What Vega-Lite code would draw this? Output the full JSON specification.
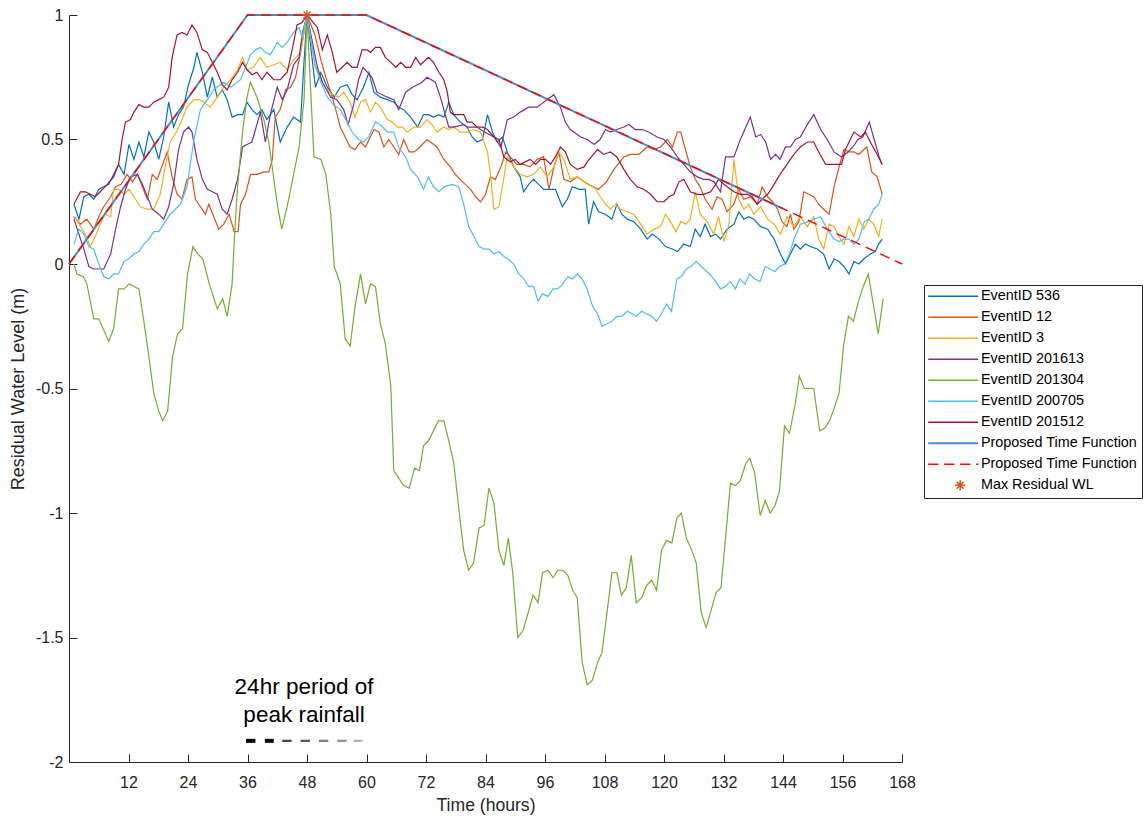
{
  "$schema": "https://vega.github.io/schema/vega-lite/v6.json",
  "autosize": {"type": "none"},
  "width": 833,
  "height": 747,
  "padding": {"left": 69, "top": 15, "right": 245, "bottom": 54},
  "background": "white",
  "config": {
    "view": {"stroke": null},
    "font": "Liberation Sans",
    "axis": {
      "domainColor": "#262626",
      "tickColor": "#262626",
      "labelColor": "#262626",
      "titleColor": "#262626",
      "labelFont": "Liberation Sans",
      "titleFont": "Liberation Sans",
      "labelFontSize": 16,
      "titleFontWeight": "normal",
      "grid": false,
      "tickSize": -8,
      "labelFlush": false
    }
  },
  "datasets": {
    "events": [
      {"series":"EventID 536","hour":1.0,"level":0.24},{"series":"EventID 536","hour":2.0,"level":0.18},{"series":"EventID 536","hour":3.0,"level":0.27},{"series":"EventID 536","hour":4.0,"level":0.28},{"series":"EventID 536","hour":5.0,"level":0.26},{"series":"EventID 536","hour":6.0,"level":0.30},{"series":"EventID 536","hour":7.0,"level":0.31},{"series":"EventID 536","hour":8.0,"level":0.32},{"series":"EventID 536","hour":9.0,"level":0.36},{"series":"EventID 536","hour":10.0,"level":0.40},{"series":"EventID 536","hour":11.1,"level":0.36},{"series":"EventID 536","hour":12.1,"level":0.48},{"series":"EventID 536","hour":13.1,"level":0.42},{"series":"EventID 536","hour":14.1,"level":0.49},{"series":"EventID 536","hour":15.1,"level":0.43},{"series":"EventID 536","hour":16.1,"level":0.53},{"series":"EventID 536","hour":17.1,"level":0.49},{"series":"EventID 536","hour":18.1,"level":0.42},{"series":"EventID 536","hour":19.1,"level":0.51},{"series":"EventID 536","hour":20.1,"level":0.65},{"series":"EventID 536","hour":21.1,"level":0.55},{"series":"EventID 536","hour":22.1,"level":0.60},{"series":"EventID 536","hour":23.1,"level":0.63},{"series":"EventID 536","hour":24.1,"level":0.72},{"series":"EventID 536","hour":25.2,"level":0.79},{"series":"EventID 536","hour":25.8,"level":0.85},{"series":"EventID 536","hour":26.9,"level":0.77},{"series":"EventID 536","hour":27.9,"level":0.67},{"series":"EventID 536","hour":28.9,"level":0.75},{"series":"EventID 536","hour":29.9,"level":0.67},{"series":"EventID 536","hour":30.9,"level":0.70},{"series":"EventID 536","hour":31.9,"level":0.66},{"series":"EventID 536","hour":32.9,"level":0.59},{"series":"EventID 536","hour":34.0,"level":0.60},{"series":"EventID 536","hour":35.0,"level":0.60},{"series":"EventID 536","hour":35.9,"level":0.65},{"series":"EventID 536","hour":36.9,"level":0.62},{"series":"EventID 536","hour":37.9,"level":0.60},{"series":"EventID 536","hour":38.9,"level":0.62},{"series":"EventID 536","hour":39.9,"level":0.58},{"series":"EventID 536","hour":41.3,"level":0.62},{"series":"EventID 536","hour":42.6,"level":0.49},{"series":"EventID 536","hour":44.0,"level":0.55},{"series":"EventID 536","hour":45.3,"level":0.59},{"series":"EventID 536","hour":46.7,"level":0.57},{"series":"EventID 536","hour":47.3,"level":0.78},{"series":"EventID 536","hour":48,"level":1.0},{"series":"EventID 536","hour":49.7,"level":0.71},{"series":"EventID 536","hour":50.8,"level":0.77},{"series":"EventID 536","hour":52.1,"level":0.71},{"series":"EventID 536","hour":53.5,"level":0.67},{"series":"EventID 536","hour":54.7,"level":0.71},{"series":"EventID 536","hour":56.1,"level":0.72},{"series":"EventID 536","hour":57.1,"level":0.68},{"series":"EventID 536","hour":58.1,"level":0.66},{"series":"EventID 536","hour":59.4,"level":0.71},{"series":"EventID 536","hour":60.5,"level":0.77},{"series":"EventID 536","hour":61.5,"level":0.69},{"series":"EventID 536","hour":62.8,"level":0.67},{"series":"EventID 536","hour":64.2,"level":0.66},{"series":"EventID 536","hour":65.5,"level":0.65},{"series":"EventID 536","hour":66.5,"level":0.63},{"series":"EventID 536","hour":67.5,"level":0.62},{"series":"EventID 536","hour":68.9,"level":0.59},{"series":"EventID 536","hour":70.3,"level":0.55},{"series":"EventID 536","hour":71.5,"level":0.60},{"series":"EventID 536","hour":72.5,"level":0.60},{"series":"EventID 536","hour":73.5,"level":0.59},{"series":"EventID 536","hour":74.6,"level":0.60},{"series":"EventID 536","hour":75.6,"level":0.59},{"series":"EventID 536","hour":76.6,"level":0.65},{"series":"EventID 536","hour":77.6,"level":0.60},{"series":"EventID 536","hour":78.9,"level":0.57},{"series":"EventID 536","hour":80.3,"level":0.55},{"series":"EventID 536","hour":81.3,"level":0.51},{"series":"EventID 536","hour":82.3,"level":0.49},{"series":"EventID 536","hour":83.4,"level":0.50},{"series":"EventID 536","hour":84.4,"level":0.60},{"series":"EventID 536","hour":85.4,"level":0.53},{"series":"EventID 536","hour":86.4,"level":0.49},{"series":"EventID 536","hour":87.4,"level":0.51},{"series":"EventID 536","hour":88.4,"level":0.45},{"series":"EventID 536","hour":89.7,"level":0.39},{"series":"EventID 536","hour":91.0,"level":0.35},{"series":"EventID 536","hour":91.7,"level":0.29},{"series":"EventID 536","hour":92.7,"level":0.32},{"series":"EventID 536","hour":93.7,"level":0.34},{"series":"EventID 536","hour":94.7,"level":0.32},{"series":"EventID 536","hour":95.7,"level":0.30},{"series":"EventID 536","hour":96.8,"level":0.30},{"series":"EventID 536","hour":98.1,"level":0.30},{"series":"EventID 536","hour":99.5,"level":0.23},{"series":"EventID 536","hour":100.5,"level":0.26},{"series":"EventID 536","hour":101.5,"level":0.31},{"series":"EventID 536","hour":102.9,"level":0.30},{"series":"EventID 536","hour":104.1,"level":0.30},{"series":"EventID 536","hour":104.8,"level":0.16},{"series":"EventID 536","hour":105.8,"level":0.25},{"series":"EventID 536","hour":106.8,"level":0.21},{"series":"EventID 536","hour":108.2,"level":0.20},{"series":"EventID 536","hour":109.5,"level":0.18},{"series":"EventID 536","hour":110.5,"level":0.24},{"series":"EventID 536","hour":111.5,"level":0.20},{"series":"EventID 536","hour":112.6,"level":0.18},{"series":"EventID 536","hour":113.9,"level":0.17},{"series":"EventID 536","hour":115.3,"level":0.14},{"series":"EventID 536","hour":116.6,"level":0.10},{"series":"EventID 536","hour":117.6,"level":0.12},{"series":"EventID 536","hour":119.0,"level":0.10},{"series":"EventID 536","hour":120.3,"level":0.07},{"series":"EventID 536","hour":121.7,"level":0.06},{"series":"EventID 536","hour":122.7,"level":0.05},{"series":"EventID 536","hour":124.0,"level":0.08},{"series":"EventID 536","hour":125.3,"level":0.07},{"series":"EventID 536","hour":126.3,"level":0.14},{"series":"EventID 536","hour":127.3,"level":0.11},{"series":"EventID 536","hour":128.3,"level":0.16},{"series":"EventID 536","hour":129.4,"level":0.11},{"series":"EventID 536","hour":130.4,"level":0.12},{"series":"EventID 536","hour":131.4,"level":0.10},{"series":"EventID 536","hour":132.7,"level":0.14},{"series":"EventID 536","hour":134.1,"level":0.16},{"series":"EventID 536","hour":135.1,"level":0.21},{"series":"EventID 536","hour":136.1,"level":0.18},{"series":"EventID 536","hour":137.1,"level":0.19},{"series":"EventID 536","hour":138.1,"level":0.18},{"series":"EventID 536","hour":139.5,"level":0.15},{"series":"EventID 536","hour":140.9,"level":0.14},{"series":"EventID 536","hour":142.2,"level":0.10},{"series":"EventID 536","hour":143.5,"level":0.04},{"series":"EventID 536","hour":144.5,"level":0.00},{"series":"EventID 536","hour":145.5,"level":0.04},{"series":"EventID 536","hour":146.5,"level":0.08},{"series":"EventID 536","hour":147.5,"level":0.06},{"series":"EventID 536","hour":148.5,"level":0.08},{"series":"EventID 536","hour":149.5,"level":0.07},{"series":"EventID 536","hour":150.9,"level":0.06},{"series":"EventID 536","hour":152.2,"level":0.04},{"series":"EventID 536","hour":153.3,"level":-0.02},{"series":"EventID 536","hour":154.3,"level":0.02},{"series":"EventID 536","hour":155.3,"level":0.01},{"series":"EventID 536","hour":156.3,"level":-0.01},{"series":"EventID 536","hour":157.3,"level":-0.04},{"series":"EventID 536","hour":158.3,"level":0.01},{"series":"EventID 536","hour":159.3,"level":0.00},{"series":"EventID 536","hour":160.3,"level":0.02},{"series":"EventID 536","hour":161.6,"level":0.04},{"series":"EventID 536","hour":162.6,"level":0.05},{"series":"EventID 536","hour":163.3,"level":0.08},{"series":"EventID 536","hour":164.0,"level":0.10},

      {"series":"EventID 12","hour":0.9,"level":0.19},{"series":"EventID 12","hour":2.3,"level":0.16},{"series":"EventID 12","hour":3.6,"level":0.18},{"series":"EventID 12","hour":5.0,"level":0.14},{"series":"EventID 12","hour":6.0,"level":0.19},{"series":"EventID 12","hour":7.0,"level":0.23},{"series":"EventID 12","hour":8.4,"level":0.27},{"series":"EventID 12","hour":9.4,"level":0.31},{"series":"EventID 12","hour":10.5,"level":0.32},{"series":"EventID 12","hour":11.7,"level":0.36},{"series":"EventID 12","hour":12.8,"level":0.33},{"series":"EventID 12","hour":13.8,"level":0.36},{"series":"EventID 12","hour":14.8,"level":0.31},{"series":"EventID 12","hour":15.8,"level":0.26},{"series":"EventID 12","hour":16.8,"level":0.36},{"series":"EventID 12","hour":17.8,"level":0.34},{"series":"EventID 12","hour":18.7,"level":0.39},{"series":"EventID 12","hour":19.8,"level":0.45},{"series":"EventID 12","hour":20.8,"level":0.35},{"series":"EventID 12","hour":21.8,"level":0.28},{"series":"EventID 12","hour":22.8,"level":0.26},{"series":"EventID 12","hour":23.8,"level":0.34},{"series":"EventID 12","hour":24.8,"level":0.35},{"series":"EventID 12","hour":25.5,"level":0.26},{"series":"EventID 12","hour":26.5,"level":0.23},{"series":"EventID 12","hour":27.5,"level":0.20},{"series":"EventID 12","hour":28.2,"level":0.24},{"series":"EventID 12","hour":29.2,"level":0.19},{"series":"EventID 12","hour":30.2,"level":0.14},{"series":"EventID 12","hour":31.2,"level":0.16},{"series":"EventID 12","hour":32.3,"level":0.20},{"series":"EventID 12","hour":33.3,"level":0.13},{"series":"EventID 12","hour":34.1,"level":0.13},{"series":"EventID 12","hour":34.6,"level":0.24},{"series":"EventID 12","hour":35.6,"level":0.28},{"series":"EventID 12","hour":36.6,"level":0.36},{"series":"EventID 12","hour":37.9,"level":0.36},{"series":"EventID 12","hour":39.3,"level":0.37},{"series":"EventID 12","hour":40.3,"level":0.37},{"series":"EventID 12","hour":41.0,"level":0.42},{"series":"EventID 12","hour":41.6,"level":0.59},{"series":"EventID 12","hour":42.6,"level":0.62},{"series":"EventID 12","hour":43.7,"level":0.70},{"series":"EventID 12","hour":44.7,"level":0.71},{"series":"EventID 12","hour":45.7,"level":0.75},{"series":"EventID 12","hour":46.7,"level":0.85},{"series":"EventID 12","hour":48,"level":1.0},{"series":"EventID 12","hour":49.6,"level":0.92},{"series":"EventID 12","hour":50.8,"level":0.82},{"series":"EventID 12","hour":51.8,"level":0.75},{"series":"EventID 12","hour":52.8,"level":0.69},{"series":"EventID 12","hour":53.8,"level":0.62},{"series":"EventID 12","hour":54.7,"level":0.55},{"series":"EventID 12","hour":55.7,"level":0.51},{"series":"EventID 12","hour":56.7,"level":0.47},{"series":"EventID 12","hour":57.7,"level":0.46},{"series":"EventID 12","hour":58.8,"level":0.49},{"series":"EventID 12","hour":59.8,"level":0.47},{"series":"EventID 12","hour":60.5,"level":0.50},{"series":"EventID 12","hour":61.5,"level":0.54},{"series":"EventID 12","hour":62.5,"level":0.53},{"series":"EventID 12","hour":63.5,"level":0.47},{"series":"EventID 12","hour":64.5,"level":0.50},{"series":"EventID 12","hour":65.5,"level":0.47},{"series":"EventID 12","hour":66.5,"level":0.44},{"series":"EventID 12","hour":67.5,"level":0.50},{"series":"EventID 12","hour":68.6,"level":0.45},{"series":"EventID 12","hour":69.6,"level":0.45},{"series":"EventID 12","hour":70.8,"level":0.47},{"series":"EventID 12","hour":72.2,"level":0.50},{"series":"EventID 12","hour":72.9,"level":0.49},{"series":"EventID 12","hour":74.2,"level":0.47},{"series":"EventID 12","hour":75.6,"level":0.42},{"series":"EventID 12","hour":76.9,"level":0.39},{"series":"EventID 12","hour":77.9,"level":0.36},{"series":"EventID 12","hour":78.9,"level":0.34},{"series":"EventID 12","hour":79.9,"level":0.32},{"series":"EventID 12","hour":81.0,"level":0.30},{"series":"EventID 12","hour":82.0,"level":0.27},{"series":"EventID 12","hour":83.0,"level":0.25},{"series":"EventID 12","hour":84.0,"level":0.28},{"series":"EventID 12","hour":85.0,"level":0.35},{"series":"EventID 12","hour":86.0,"level":0.34},{"series":"EventID 12","hour":87.1,"level":0.39},{"series":"EventID 12","hour":88.1,"level":0.45},{"series":"EventID 12","hour":89.0,"level":0.43},{"series":"EventID 12","hour":90.3,"level":0.40},{"series":"EventID 12","hour":91.7,"level":0.40},{"series":"EventID 12","hour":93.0,"level":0.39},{"series":"EventID 12","hour":94.4,"level":0.42},{"series":"EventID 12","hour":95.7,"level":0.43},{"series":"EventID 12","hour":96.8,"level":0.30},{"series":"EventID 12","hour":97.8,"level":0.39},{"series":"EventID 12","hour":98.8,"level":0.45},{"series":"EventID 12","hour":99.8,"level":0.34},{"series":"EventID 12","hour":101.1,"level":0.33},{"series":"EventID 12","hour":102.5,"level":0.35},{"series":"EventID 12","hour":103.9,"level":0.33},{"series":"EventID 12","hour":105.6,"level":0.31},{"series":"EventID 12","hour":106.8,"level":0.30},{"series":"EventID 12","hour":108.4,"level":0.33},{"series":"EventID 12","hour":109.9,"level":0.38},{"series":"EventID 12","hour":111.9,"level":0.43},{"series":"EventID 12","hour":113.2,"level":0.44},{"series":"EventID 12","hour":114.9,"level":0.44},{"series":"EventID 12","hour":116.6,"level":0.47},{"series":"EventID 12","hour":118.0,"level":0.46},{"series":"EventID 12","hour":119.3,"level":0.47},{"series":"EventID 12","hour":120.7,"level":0.50},{"series":"EventID 12","hour":121.7,"level":0.47},{"series":"EventID 12","hour":122.7,"level":0.53},{"series":"EventID 12","hour":123.4,"level":0.53},{"series":"EventID 12","hour":123.9,"level":0.49},{"series":"EventID 12","hour":125.3,"level":0.39},{"series":"EventID 12","hour":126.3,"level":0.34},{"series":"EventID 12","hour":127.3,"level":0.31},{"series":"EventID 12","hour":128.3,"level":0.26},{"series":"EventID 12","hour":129.7,"level":0.22},{"series":"EventID 12","hour":130.7,"level":0.27},{"series":"EventID 12","hour":131.7,"level":0.26},{"series":"EventID 12","hour":132.7,"level":0.21},{"series":"EventID 12","hour":134.1,"level":0.24},{"series":"EventID 12","hour":135.1,"level":0.30},{"series":"EventID 12","hour":136.1,"level":0.26},{"series":"EventID 12","hour":137.5,"level":0.27},{"series":"EventID 12","hour":138.8,"level":0.24},{"series":"EventID 12","hour":139.8,"level":0.31},{"series":"EventID 12","hour":140.9,"level":0.27},{"series":"EventID 12","hour":141.9,"level":0.25},{"series":"EventID 12","hour":142.9,"level":0.22},{"series":"EventID 12","hour":143.8,"level":0.17},{"series":"EventID 12","hour":144.8,"level":0.15},{"series":"EventID 12","hour":145.5,"level":0.20},{"series":"EventID 12","hour":146.2,"level":0.14},{"series":"EventID 12","hour":147.2,"level":0.17},{"series":"EventID 12","hour":148.2,"level":0.29},{"series":"EventID 12","hour":149.2,"level":0.28},{"series":"EventID 12","hour":150.2,"level":0.27},{"series":"EventID 12","hour":151.2,"level":0.24},{"series":"EventID 12","hour":152.2,"level":0.22},{"series":"EventID 12","hour":153.3,"level":0.20},{"series":"EventID 12","hour":154.3,"level":0.31},{"series":"EventID 12","hour":155.3,"level":0.39},{"series":"EventID 12","hour":156.3,"level":0.46},{"series":"EventID 12","hour":157.3,"level":0.45},{"series":"EventID 12","hour":158.3,"level":0.45},{"series":"EventID 12","hour":159.3,"level":0.44},{"series":"EventID 12","hour":160.3,"level":0.46},{"series":"EventID 12","hour":160.9,"level":0.47},{"series":"EventID 12","hour":161.9,"level":0.37},{"series":"EventID 12","hour":163.0,"level":0.35},{"series":"EventID 12","hour":164.0,"level":0.28},

      {"series":"EventID 3","hour":1.2,"level":0.19},{"series":"EventID 3","hour":2.3,"level":0.15},{"series":"EventID 3","hour":3.3,"level":0.12},{"series":"EventID 3","hour":4.3,"level":0.07},{"series":"EventID 3","hour":5.3,"level":0.11},{"series":"EventID 3","hour":6.3,"level":0.16},{"series":"EventID 3","hour":7.3,"level":0.20},{"series":"EventID 3","hour":8.4,"level":0.19},{"series":"EventID 3","hour":9.0,"level":0.30},{"series":"EventID 3","hour":10.0,"level":0.30},{"series":"EventID 3","hour":11.1,"level":0.28},{"series":"EventID 3","hour":12.1,"level":0.30},{"series":"EventID 3","hour":13.1,"level":0.27},{"series":"EventID 3","hour":14.4,"level":0.23},{"series":"EventID 3","hour":15.8,"level":0.22},{"series":"EventID 3","hour":17.1,"level":0.22},{"series":"EventID 3","hour":18.4,"level":0.28},{"series":"EventID 3","hour":19.4,"level":0.39},{"series":"EventID 3","hour":20.4,"level":0.49},{"series":"EventID 3","hour":21.4,"level":0.52},{"series":"EventID 3","hour":22.6,"level":0.57},{"series":"EventID 3","hour":23.8,"level":0.63},{"series":"EventID 3","hour":25.2,"level":0.66},{"series":"EventID 3","hour":26.2,"level":0.66},{"series":"EventID 3","hour":27.2,"level":0.65},{"series":"EventID 3","hour":28.5,"level":0.63},{"series":"EventID 3","hour":29.9,"level":0.67},{"series":"EventID 3","hour":31.2,"level":0.71},{"series":"EventID 3","hour":32.6,"level":0.74},{"series":"EventID 3","hour":34.0,"level":0.78},{"series":"EventID 3","hour":35.0,"level":0.83},{"series":"EventID 3","hour":35.9,"level":0.78},{"series":"EventID 3","hour":37.2,"level":0.79},{"series":"EventID 3","hour":38.6,"level":0.83},{"series":"EventID 3","hour":39.9,"level":0.79},{"series":"EventID 3","hour":41.3,"level":0.80},{"series":"EventID 3","hour":42.6,"level":0.81},{"series":"EventID 3","hour":44.0,"level":0.78},{"series":"EventID 3","hour":45.3,"level":0.82},{"series":"EventID 3","hour":46.7,"level":0.85},{"series":"EventID 3","hour":48,"level":1.0},{"series":"EventID 3","hour":49.6,"level":0.80},{"series":"EventID 3","hour":51.1,"level":0.73},{"series":"EventID 3","hour":52.4,"level":0.69},{"series":"EventID 3","hour":54.4,"level":0.67},{"series":"EventID 3","hour":55.4,"level":0.69},{"series":"EventID 3","hour":56.7,"level":0.65},{"series":"EventID 3","hour":57.7,"level":0.59},{"series":"EventID 3","hour":58.8,"level":0.65},{"series":"EventID 3","hour":59.8,"level":0.66},{"series":"EventID 3","hour":60.8,"level":0.61},{"series":"EventID 3","hour":61.8,"level":0.65},{"series":"EventID 3","hour":62.8,"level":0.63},{"series":"EventID 3","hour":64.2,"level":0.58},{"series":"EventID 3","hour":65.2,"level":0.57},{"series":"EventID 3","hour":66.2,"level":0.55},{"series":"EventID 3","hour":67.2,"level":0.55},{"series":"EventID 3","hour":68.2,"level":0.53},{"series":"EventID 3","hour":69.6,"level":0.55},{"series":"EventID 3","hour":70.8,"level":0.55},{"series":"EventID 3","hour":72.2,"level":0.58},{"series":"EventID 3","hour":73.2,"level":0.56},{"series":"EventID 3","hour":74.2,"level":0.53},{"series":"EventID 3","hour":75.6,"level":0.55},{"series":"EventID 3","hour":76.6,"level":0.54},{"series":"EventID 3","hour":77.6,"level":0.55},{"series":"EventID 3","hour":78.9,"level":0.53},{"series":"EventID 3","hour":80.3,"level":0.53},{"series":"EventID 3","hour":81.6,"level":0.54},{"series":"EventID 3","hour":83.0,"level":0.53},{"series":"EventID 3","hour":84.4,"level":0.45},{"series":"EventID 3","hour":85.0,"level":0.36},{"series":"EventID 3","hour":85.7,"level":0.22},{"series":"EventID 3","hour":86.7,"level":0.23},{"series":"EventID 3","hour":87.4,"level":0.31},{"series":"EventID 3","hour":88.4,"level":0.43},{"series":"EventID 3","hour":89.7,"level":0.39},{"series":"EventID 3","hour":91.0,"level":0.36},{"series":"EventID 3","hour":92.4,"level":0.35},{"series":"EventID 3","hour":93.7,"level":0.36},{"series":"EventID 3","hour":95.1,"level":0.39},{"series":"EventID 3","hour":96.4,"level":0.35},{"series":"EventID 3","hour":97.8,"level":0.39},{"series":"EventID 3","hour":98.8,"level":0.45},{"series":"EventID 3","hour":99.8,"level":0.42},{"series":"EventID 3","hour":101.1,"level":0.34},{"series":"EventID 3","hour":102.5,"level":0.35},{"series":"EventID 3","hour":103.9,"level":0.33},{"series":"EventID 3","hour":104.5,"level":0.32},{"series":"EventID 3","hour":105.9,"level":0.31},{"series":"EventID 3","hour":106.8,"level":0.28},{"series":"EventID 3","hour":108.2,"level":0.24},{"series":"EventID 3","hour":109.2,"level":0.22},{"series":"EventID 3","hour":110.2,"level":0.24},{"series":"EventID 3","hour":111.2,"level":0.22},{"series":"EventID 3","hour":112.6,"level":0.21},{"series":"EventID 3","hour":113.9,"level":0.20},{"series":"EventID 3","hour":115.3,"level":0.16},{"series":"EventID 3","hour":116.6,"level":0.12},{"series":"EventID 3","hour":118.0,"level":0.14},{"series":"EventID 3","hour":119.3,"level":0.15},{"series":"EventID 3","hour":120.3,"level":0.20},{"series":"EventID 3","hour":121.3,"level":0.17},{"series":"EventID 3","hour":122.4,"level":0.13},{"series":"EventID 3","hour":123.4,"level":0.17},{"series":"EventID 3","hour":124.4,"level":0.16},{"series":"EventID 3","hour":125.3,"level":0.18},{"series":"EventID 3","hour":126.3,"level":0.29},{"series":"EventID 3","hour":127.3,"level":0.20},{"series":"EventID 3","hour":128.7,"level":0.17},{"series":"EventID 3","hour":130.0,"level":0.12},{"series":"EventID 3","hour":131.0,"level":0.19},{"series":"EventID 3","hour":132.1,"level":0.09},{"series":"EventID 3","hour":133.1,"level":0.16},{"series":"EventID 3","hour":134.1,"level":0.42},{"series":"EventID 3","hour":135.1,"level":0.26},{"series":"EventID 3","hour":136.1,"level":0.22},{"series":"EventID 3","hour":137.1,"level":0.24},{"series":"EventID 3","hour":138.1,"level":0.20},{"series":"EventID 3","hour":139.5,"level":0.23},{"series":"EventID 3","hour":140.9,"level":0.18},{"series":"EventID 3","hour":142.2,"level":0.16},{"series":"EventID 3","hour":143.5,"level":0.12},{"series":"EventID 3","hour":144.8,"level":0.19},{"series":"EventID 3","hour":146.2,"level":0.15},{"series":"EventID 3","hour":147.5,"level":0.19},{"series":"EventID 3","hour":148.9,"level":0.15},{"series":"EventID 3","hour":150.2,"level":0.19},{"series":"EventID 3","hour":151.2,"level":0.10},{"series":"EventID 3","hour":152.2,"level":0.06},{"series":"EventID 3","hour":153.3,"level":0.16},{"series":"EventID 3","hour":154.3,"level":0.15},{"series":"EventID 3","hour":155.3,"level":0.11},{"series":"EventID 3","hour":156.3,"level":0.08},{"series":"EventID 3","hour":157.3,"level":0.15},{"series":"EventID 3","hour":158.3,"level":0.11},{"series":"EventID 3","hour":159.3,"level":0.18},{"series":"EventID 3","hour":160.3,"level":0.14},{"series":"EventID 3","hour":161.3,"level":0.18},{"series":"EventID 3","hour":162.3,"level":0.16},{"series":"EventID 3","hour":163.3,"level":0.11},{"series":"EventID 3","hour":164.0,"level":0.18},

      {"series":"EventID 201613","hour":1.0,"level":0.18},{"series":"EventID 201613","hour":2.0,"level":0.12},{"series":"EventID 201613","hour":3.0,"level":0.06},{"series":"EventID 201613","hour":4.0,"level":-0.01},{"series":"EventID 201613","hour":5.0,"level":-0.02},{"series":"EventID 201613","hour":7.0,"level":-0.02},{"series":"EventID 201613","hour":8.4,"level":0.04},{"series":"EventID 201613","hour":9.4,"level":0.14},{"series":"EventID 201613","hour":10.4,"level":0.23},{"series":"EventID 201613","hour":11.4,"level":0.30},{"series":"EventID 201613","hour":12.4,"level":0.35},{"series":"EventID 201613","hour":13.8,"level":0.36},{"series":"EventID 201613","hour":14.8,"level":0.32},{"series":"EventID 201613","hour":15.8,"level":0.27},{"series":"EventID 201613","hour":16.8,"level":0.22},{"series":"EventID 201613","hour":18.1,"level":0.20},{"series":"EventID 201613","hour":19.1,"level":0.18},{"series":"EventID 201613","hour":20.1,"level":0.23},{"series":"EventID 201613","hour":21.1,"level":0.32},{"series":"EventID 201613","hour":22.1,"level":0.46},{"series":"EventID 201613","hour":23.1,"level":0.53},{"series":"EventID 201613","hour":24.1,"level":0.55},{"series":"EventID 201613","hour":24.8,"level":0.53},{"series":"EventID 201613","hour":25.8,"level":0.42},{"series":"EventID 201613","hour":26.9,"level":0.34},{"series":"EventID 201613","hour":27.9,"level":0.30},{"series":"EventID 201613","hour":28.9,"level":0.29},{"series":"EventID 201613","hour":29.9,"level":0.28},{"series":"EventID 201613","hour":30.9,"level":0.22},{"series":"EventID 201613","hour":31.9,"level":0.20},{"series":"EventID 201613","hour":32.9,"level":0.26},{"series":"EventID 201613","hour":34.0,"level":0.34},{"series":"EventID 201613","hour":35.0,"level":0.47},{"series":"EventID 201613","hour":35.9,"level":0.48},{"series":"EventID 201613","hour":36.9,"level":0.49},{"series":"EventID 201613","hour":38.6,"level":0.61},{"series":"EventID 201613","hour":39.6,"level":0.49},{"series":"EventID 201613","hour":40.6,"level":0.60},{"series":"EventID 201613","hour":42.0,"level":0.71},{"series":"EventID 201613","hour":43.0,"level":0.66},{"series":"EventID 201613","hour":44.0,"level":0.70},{"series":"EventID 201613","hour":45.3,"level":0.80},{"series":"EventID 201613","hour":46.4,"level":0.83},{"series":"EventID 201613","hour":47.1,"level":0.93},{"series":"EventID 201613","hour":48,"level":1.0},{"series":"EventID 201613","hour":50.1,"level":0.79},{"series":"EventID 201613","hour":51.1,"level":0.73},{"series":"EventID 201613","hour":52.8,"level":0.67},{"series":"EventID 201613","hour":54.0,"level":0.66},{"series":"EventID 201613","hour":55.4,"level":0.62},{"series":"EventID 201613","hour":56.3,"level":0.56},{"series":"EventID 201613","hour":57.4,"level":0.64},{"series":"EventID 201613","hour":58.4,"level":0.74},{"series":"EventID 201613","hour":59.3,"level":0.79},{"series":"EventID 201613","hour":61.1,"level":0.75},{"series":"EventID 201613","hour":62.1,"level":0.69},{"series":"EventID 201613","hour":64.2,"level":0.67},{"series":"EventID 201613","hour":65.5,"level":0.66},{"series":"EventID 201613","hour":66.5,"level":0.62},{"series":"EventID 201613","hour":67.9,"level":0.69},{"series":"EventID 201613","hour":69.3,"level":0.71},{"series":"EventID 201613","hour":71.2,"level":0.73},{"series":"EventID 201613","hour":72.2,"level":0.75},{"series":"EventID 201613","hour":73.9,"level":0.73},{"series":"EventID 201613","hour":74.9,"level":0.67},{"series":"EventID 201613","hour":75.6,"level":0.62},{"series":"EventID 201613","hour":76.6,"level":0.55},{"series":"EventID 201613","hour":77.6,"level":0.55},{"series":"EventID 201613","hour":79.6,"level":0.56},{"series":"EventID 201613","hour":80.3,"level":0.55},{"series":"EventID 201613","hour":82.2,"level":0.55},{"series":"EventID 201613","hour":83.8,"level":0.53},{"series":"EventID 201613","hour":85.7,"level":0.51},{"series":"EventID 201613","hour":87.1,"level":0.47},{"series":"EventID 201613","hour":88.4,"level":0.58},{"series":"EventID 201613","hour":89.7,"level":0.59},{"series":"EventID 201613","hour":91.0,"level":0.61},{"series":"EventID 201613","hour":92.7,"level":0.63},{"series":"EventID 201613","hour":94.4,"level":0.63},{"series":"EventID 201613","hour":96.4,"level":0.66},{"series":"EventID 201613","hour":97.8,"level":0.68},{"series":"EventID 201613","hour":99.1,"level":0.63},{"series":"EventID 201613","hour":100.1,"level":0.57},{"series":"EventID 201613","hour":101.1,"level":0.54},{"series":"EventID 201613","hour":103.2,"level":0.51},{"series":"EventID 201613","hour":104.5,"level":0.50},{"series":"EventID 201613","hour":105.9,"level":0.48},{"series":"EventID 201613","hour":107.1,"level":0.50},{"series":"EventID 201613","hour":108.2,"level":0.54},{"series":"EventID 201613","hour":109.2,"level":0.53},{"series":"EventID 201613","hour":110.5,"level":0.54},{"series":"EventID 201613","hour":111.9,"level":0.55},{"series":"EventID 201613","hour":112.9,"level":0.56},{"series":"EventID 201613","hour":114.2,"level":0.54},{"series":"EventID 201613","hour":115.6,"level":0.54},{"series":"EventID 201613","hour":116.9,"level":0.53},{"series":"EventID 201613","hour":118.6,"level":0.51},{"series":"EventID 201613","hour":120.0,"level":0.50},{"series":"EventID 201613","hour":121.3,"level":0.47},{"series":"EventID 201613","hour":122.7,"level":0.43},{"series":"EventID 201613","hour":124.0,"level":0.40},{"series":"EventID 201613","hour":125.3,"level":0.37},{"series":"EventID 201613","hour":126.7,"level":0.35},{"series":"EventID 201613","hour":128.0,"level":0.34},{"series":"EventID 201613","hour":129.0,"level":0.34},{"series":"EventID 201613","hour":130.1,"level":0.33},{"series":"EventID 201613","hour":131.4,"level":0.29},{"series":"EventID 201613","hour":132.4,"level":0.43},{"series":"EventID 201613","hour":134.1,"level":0.43},{"series":"EventID 201613","hour":135.4,"level":0.50},{"series":"EventID 201613","hour":137.4,"level":0.59},{"series":"EventID 201613","hour":138.5,"level":0.51},{"series":"EventID 201613","hour":139.5,"level":0.52},{"series":"EventID 201613","hour":140.5,"level":0.49},{"series":"EventID 201613","hour":141.5,"level":0.42},{"series":"EventID 201613","hour":142.5,"level":0.44},{"series":"EventID 201613","hour":143.4,"level":0.42},{"series":"EventID 201613","hour":144.5,"level":0.47},{"series":"EventID 201613","hour":145.5,"level":0.47},{"series":"EventID 201613","hour":146.5,"level":0.50},{"series":"EventID 201613","hour":147.5,"level":0.51},{"series":"EventID 201613","hour":148.9,"level":0.56},{"series":"EventID 201613","hour":150.2,"level":0.60},{"series":"EventID 201613","hour":151.6,"level":0.54},{"series":"EventID 201613","hour":152.9,"level":0.50},{"series":"EventID 201613","hour":154.3,"level":0.45},{"series":"EventID 201613","hour":155.8,"level":0.43},{"series":"EventID 201613","hour":157.1,"level":0.45},{"series":"EventID 201613","hour":158.1,"level":0.47},{"series":"EventID 201613","hour":159.1,"level":0.50},{"series":"EventID 201613","hour":160.1,"level":0.51},{"series":"EventID 201613","hour":161.4,"level":0.57},{"series":"EventID 201613","hour":162.4,"level":0.50},{"series":"EventID 201613","hour":163.4,"level":0.43},{"series":"EventID 201613","hour":164.0,"level":0.40},

      {"series":"EventID 201304","hour":1.0,"level":0.0},{"series":"EventID 201304","hour":1.6,"level":-0.04},{"series":"EventID 201304","hour":2.9,"level":-0.05},{"series":"EventID 201304","hour":3.6,"level":-0.08},{"series":"EventID 201304","hour":5.0,"level":-0.22},{"series":"EventID 201304","hour":6.0,"level":-0.22},{"series":"EventID 201304","hour":8.0,"level":-0.31},{"series":"EventID 201304","hour":9.0,"level":-0.26},{"series":"EventID 201304","hour":10.0,"level":-0.10},{"series":"EventID 201304","hour":11.1,"level":-0.10},{"series":"EventID 201304","hour":12.1,"level":-0.08},{"series":"EventID 201304","hour":14.1,"level":-0.10},{"series":"EventID 201304","hour":15.1,"level":-0.23},{"series":"EventID 201304","hour":16.1,"level":-0.37},{"series":"EventID 201304","hour":17.1,"level":-0.52},{"series":"EventID 201304","hour":18.1,"level":-0.59},{"series":"EventID 201304","hour":18.9,"level":-0.63},{"series":"EventID 201304","hour":19.9,"level":-0.59},{"series":"EventID 201304","hour":20.9,"level":-0.37},{"series":"EventID 201304","hour":21.9,"level":-0.28},{"series":"EventID 201304","hour":22.9,"level":-0.26},{"series":"EventID 201304","hour":23.9,"level":-0.04},{"series":"EventID 201304","hour":25.0,"level":0.07},{"series":"EventID 201304","hour":26.0,"level":0.04},{"series":"EventID 201304","hour":27.0,"level":0.02},{"series":"EventID 201304","hour":28.3,"level":-0.08},{"series":"EventID 201304","hour":29.9,"level":-0.18},{"series":"EventID 201304","hour":31.0,"level":-0.14},{"series":"EventID 201304","hour":31.9,"level":-0.21},{"series":"EventID 201304","hour":32.9,"level":-0.08},{"series":"EventID 201304","hour":33.4,"level":0.12},{"series":"EventID 201304","hour":34.0,"level":0.31},{"series":"EventID 201304","hour":35.0,"level":0.53},{"series":"EventID 201304","hour":35.9,"level":0.67},{"series":"EventID 201304","hour":36.6,"level":0.73},{"series":"EventID 201304","hour":37.9,"level":0.67},{"series":"EventID 201304","hour":39.3,"level":0.58},{"series":"EventID 201304","hour":40.3,"level":0.49},{"series":"EventID 201304","hour":42.0,"level":0.24},{"series":"EventID 201304","hour":42.9,"level":0.14},{"series":"EventID 201304","hour":44.0,"level":0.23},{"series":"EventID 201304","hour":45.3,"level":0.36},{"series":"EventID 201304","hour":46.4,"level":0.47},{"series":"EventID 201304","hour":47.4,"level":0.66},{"series":"EventID 201304","hour":48,"level":1.0},{"series":"EventID 201304","hour":49.4,"level":0.43},{"series":"EventID 201304","hour":50.8,"level":0.42},{"series":"EventID 201304","hour":51.8,"level":0.36},{"series":"EventID 201304","hour":52.8,"level":0.20},{"series":"EventID 201304","hour":53.5,"level":-0.01},{"series":"EventID 201304","hour":54.7,"level":-0.08},{"series":"EventID 201304","hour":55.7,"level":-0.30},{"series":"EventID 201304","hour":56.7,"level":-0.33},{"series":"EventID 201304","hour":57.7,"level":-0.17},{"series":"EventID 201304","hour":58.8,"level":-0.04},{"series":"EventID 201304","hour":59.8,"level":-0.16},{"series":"EventID 201304","hour":60.8,"level":-0.08},{"series":"EventID 201304","hour":61.8,"level":-0.09},{"series":"EventID 201304","hour":62.8,"level":-0.24},{"series":"EventID 201304","hour":63.8,"level":-0.32},{"series":"EventID 201304","hour":64.9,"level":-0.49},{"series":"EventID 201304","hour":65.5,"level":-0.83},{"series":"EventID 201304","hour":66.5,"level":-0.86},{"series":"EventID 201304","hour":67.5,"level":-0.89},{"series":"EventID 201304","hour":68.6,"level":-0.90},{"series":"EventID 201304","hour":69.7,"level":-0.82},{"series":"EventID 201304","hour":70.7,"level":-0.83},{"series":"EventID 201304","hour":71.5,"level":-0.73},{"series":"EventID 201304","hour":72.5,"level":-0.71},{"series":"EventID 201304","hour":73.5,"level":-0.67},{"series":"EventID 201304","hour":74.5,"level":-0.63},{"series":"EventID 201304","hour":75.6,"level":-0.63},{"series":"EventID 201304","hour":76.6,"level":-0.71},{"series":"EventID 201304","hour":77.6,"level":-0.80},{"series":"EventID 201304","hour":78.6,"level":-0.98},{"series":"EventID 201304","hour":79.6,"level":-1.15},{"series":"EventID 201304","hour":80.6,"level":-1.23},{"series":"EventID 201304","hour":81.6,"level":-1.20},{"series":"EventID 201304","hour":82.7,"level":-1.06},{"series":"EventID 201304","hour":83.7,"level":-1.05},{"series":"EventID 201304","hour":84.7,"level":-0.90},{"series":"EventID 201304","hour":85.7,"level":-0.96},{"series":"EventID 201304","hour":86.7,"level":-1.15},{"series":"EventID 201304","hour":87.7,"level":-1.21},{"series":"EventID 201304","hour":88.6,"level":-1.10},{"series":"EventID 201304","hour":89.5,"level":-1.24},{"series":"EventID 201304","hour":90.5,"level":-1.50},{"series":"EventID 201304","hour":91.6,"level":-1.47},{"series":"EventID 201304","hour":92.6,"level":-1.40},{"series":"EventID 201304","hour":93.6,"level":-1.33},{"series":"EventID 201304","hour":94.6,"level":-1.36},{"series":"EventID 201304","hour":95.5,"level":-1.24},{"series":"EventID 201304","hour":96.6,"level":-1.23},{"series":"EventID 201304","hour":97.6,"level":-1.26},{"series":"EventID 201304","hour":98.6,"level":-1.23},{"series":"EventID 201304","hour":99.6,"level":-1.23},{"series":"EventID 201304","hour":100.6,"level":-1.25},{"series":"EventID 201304","hour":101.6,"level":-1.31},{"series":"EventID 201304","hour":102.5,"level":-1.34},{"series":"EventID 201304","hour":103.5,"level":-1.60},{"series":"EventID 201304","hour":104.5,"level":-1.69},{"series":"EventID 201304","hour":105.6,"level":-1.67},{"series":"EventID 201304","hour":106.6,"level":-1.60},{"series":"EventID 201304","hour":107.5,"level":-1.56},{"series":"EventID 201304","hour":108.5,"level":-1.40},{"series":"EventID 201304","hour":109.5,"level":-1.24},{"series":"EventID 201304","hour":110.5,"level":-1.24},{"series":"EventID 201304","hour":111.4,"level":-1.33},{"series":"EventID 201304","hour":112.4,"level":-1.30},{"series":"EventID 201304","hour":113.4,"level":-1.17},{"series":"EventID 201304","hour":114.4,"level":-1.36},{"series":"EventID 201304","hour":115.5,"level":-1.34},{"series":"EventID 201304","hour":116.5,"level":-1.29},{"series":"EventID 201304","hour":117.5,"level":-1.27},{"series":"EventID 201304","hour":118.5,"level":-1.31},{"series":"EventID 201304","hour":119.5,"level":-1.15},{"series":"EventID 201304","hour":120.5,"level":-1.11},{"series":"EventID 201304","hour":121.6,"level":-1.12},{"series":"EventID 201304","hour":122.6,"level":-1.02},{"series":"EventID 201304","hour":123.5,"level":-1.00},{"series":"EventID 201304","hour":124.5,"level":-1.10},{"series":"EventID 201304","hour":125.4,"level":-1.14},{"series":"EventID 201304","hour":126.5,"level":-1.20},{"series":"EventID 201304","hour":127.5,"level":-1.40},{"series":"EventID 201304","hour":128.5,"level":-1.46},{"series":"EventID 201304","hour":129.5,"level":-1.39},{"series":"EventID 201304","hour":130.5,"level":-1.32},{"series":"EventID 201304","hour":131.5,"level":-1.30},{"series":"EventID 201304","hour":132.5,"level":-1.08},{"series":"EventID 201304","hour":133.4,"level":-0.88},{"series":"EventID 201304","hour":134.4,"level":-0.89},{"series":"EventID 201304","hour":135.4,"level":-0.87},{"series":"EventID 201304","hour":136.5,"level":-0.80},{"series":"EventID 201304","hour":137.3,"level":-0.78},{"series":"EventID 201304","hour":138.3,"level":-0.84},{"series":"EventID 201304","hour":139.4,"level":-1.01},{"series":"EventID 201304","hour":140.4,"level":-0.95},{"series":"EventID 201304","hour":141.4,"level":-1.00},{"series":"EventID 201304","hour":142.4,"level":-0.97},{"series":"EventID 201304","hour":143.3,"level":-0.91},{"series":"EventID 201304","hour":144.3,"level":-0.65},{"series":"EventID 201304","hour":145.3,"level":-0.68},{"series":"EventID 201304","hour":146.4,"level":-0.57},{"series":"EventID 201304","hour":147.3,"level":-0.45},{"series":"EventID 201304","hour":148.3,"level":-0.50},{"series":"EventID 201304","hour":149.3,"level":-0.50},{"series":"EventID 201304","hour":150.2,"level":-0.50},{"series":"EventID 201304","hour":151.4,"level":-0.67},{"series":"EventID 201304","hour":152.4,"level":-0.66},{"series":"EventID 201304","hour":153.4,"level":-0.63},{"series":"EventID 201304","hour":154.3,"level":-0.58},{"series":"EventID 201304","hour":155.3,"level":-0.52},{"series":"EventID 201304","hour":156.2,"level":-0.33},{"series":"EventID 201304","hour":157.2,"level":-0.21},{"series":"EventID 201304","hour":158.2,"level":-0.23},{"series":"EventID 201304","hour":159.2,"level":-0.15},{"series":"EventID 201304","hour":160.2,"level":-0.09},{"series":"EventID 201304","hour":161.2,"level":-0.04},{"series":"EventID 201304","hour":162.2,"level":-0.16},{"series":"EventID 201304","hour":163.2,"level":-0.28},{"series":"EventID 201304","hour":164.2,"level":-0.14},

      {"series":"EventID 200705","hour":1.0,"level":0.08},{"series":"EventID 200705","hour":2.0,"level":0.14},{"series":"EventID 200705","hour":3.0,"level":0.12},{"series":"EventID 200705","hour":4.0,"level":0.07},{"series":"EventID 200705","hour":5.0,"level":0.06},{"series":"EventID 200705","hour":6.0,"level":0.00},{"series":"EventID 200705","hour":7.0,"level":-0.05},{"series":"EventID 200705","hour":8.0,"level":-0.06},{"series":"EventID 200705","hour":9.0,"level":-0.04},{"series":"EventID 200705","hour":10.0,"level":-0.04},{"series":"EventID 200705","hour":11.1,"level":0.01},{"series":"EventID 200705","hour":12.0,"level":0.02},{"series":"EventID 200705","hour":13.1,"level":0.04},{"series":"EventID 200705","hour":14.1,"level":0.05},{"series":"EventID 200705","hour":15.1,"level":0.08},{"series":"EventID 200705","hour":16.1,"level":0.10},{"series":"EventID 200705","hour":17.1,"level":0.13},{"series":"EventID 200705","hour":18.1,"level":0.13},{"series":"EventID 200705","hour":20.4,"level":0.20},{"series":"EventID 200705","hour":22.5,"level":0.24},{"series":"EventID 200705","hour":23.8,"level":0.31},{"series":"EventID 200705","hour":25.2,"level":0.50},{"series":"EventID 200705","hour":26.5,"level":0.62},{"series":"EventID 200705","hour":27.9,"level":0.66},{"series":"EventID 200705","hour":29.2,"level":0.70},{"series":"EventID 200705","hour":31.2,"level":0.73},{"series":"EventID 200705","hour":32.6,"level":0.71},{"series":"EventID 200705","hour":34.6,"level":0.74},{"series":"EventID 200705","hour":36.6,"level":0.84},{"series":"EventID 200705","hour":37.6,"level":0.86},{"series":"EventID 200705","hour":38.6,"level":0.87},{"series":"EventID 200705","hour":39.6,"level":0.85},{"series":"EventID 200705","hour":40.6,"level":0.84},{"series":"EventID 200705","hour":42.0,"level":0.89},{"series":"EventID 200705","hour":43.0,"level":0.87},{"series":"EventID 200705","hour":44.0,"level":0.89},{"series":"EventID 200705","hour":45.3,"level":0.93},{"series":"EventID 200705","hour":46.4,"level":0.95},{"series":"EventID 200705","hour":47.0,"level":0.91},{"series":"EventID 200705","hour":48,"level":1.0},{"series":"EventID 200705","hour":49.6,"level":0.80},{"series":"EventID 200705","hour":50.8,"level":0.73},{"series":"EventID 200705","hour":52.1,"level":0.67},{"series":"EventID 200705","hour":53.3,"level":0.64},{"series":"EventID 200705","hour":54.7,"level":0.62},{"series":"EventID 200705","hour":56.1,"level":0.57},{"series":"EventID 200705","hour":57.1,"level":0.53},{"series":"EventID 200705","hour":58.4,"level":0.50},{"series":"EventID 200705","hour":59.4,"level":0.49},{"series":"EventID 200705","hour":60.4,"level":0.51},{"series":"EventID 200705","hour":61.8,"level":0.57},{"series":"EventID 200705","hour":62.8,"level":0.56},{"series":"EventID 200705","hour":64.2,"level":0.53},{"series":"EventID 200705","hour":65.5,"level":0.53},{"series":"EventID 200705","hour":66.5,"level":0.47},{"series":"EventID 200705","hour":67.9,"level":0.43},{"series":"EventID 200705","hour":68.9,"level":0.38},{"series":"EventID 200705","hour":70.3,"level":0.35},{"series":"EventID 200705","hour":71.5,"level":0.30},{"series":"EventID 200705","hour":72.5,"level":0.35},{"series":"EventID 200705","hour":73.5,"level":0.31},{"series":"EventID 200705","hour":74.6,"level":0.29},{"series":"EventID 200705","hour":75.6,"level":0.31},{"series":"EventID 200705","hour":77.3,"level":0.32},{"series":"EventID 200705","hour":78.6,"level":0.31},{"series":"EventID 200705","hour":79.6,"level":0.24},{"series":"EventID 200705","hour":80.6,"level":0.15},{"series":"EventID 200705","hour":81.7,"level":0.11},{"series":"EventID 200705","hour":82.7,"level":0.07},{"series":"EventID 200705","hour":83.7,"level":0.06},{"series":"EventID 200705","hour":84.7,"level":0.06},{"series":"EventID 200705","hour":85.7,"level":0.04},{"series":"EventID 200705","hour":86.7,"level":0.05},{"series":"EventID 200705","hour":87.7,"level":0.03},{"series":"EventID 200705","hour":88.6,"level":0.02},{"series":"EventID 200705","hour":89.7,"level":0.00},{"series":"EventID 200705","hour":90.7,"level":-0.04},{"series":"EventID 200705","hour":91.7,"level":-0.06},{"series":"EventID 200705","hour":92.7,"level":-0.09},{"series":"EventID 200705","hour":93.7,"level":-0.09},{"series":"EventID 200705","hour":94.6,"level":-0.15},{"series":"EventID 200705","hour":95.5,"level":-0.12},{"series":"EventID 200705","hour":96.6,"level":-0.13},{"series":"EventID 200705","hour":97.6,"level":-0.10},{"series":"EventID 200705","hour":98.6,"level":-0.10},{"series":"EventID 200705","hour":99.6,"level":-0.08},{"series":"EventID 200705","hour":100.6,"level":-0.05},{"series":"EventID 200705","hour":101.5,"level":-0.06},{"series":"EventID 200705","hour":102.5,"level":-0.04},{"series":"EventID 200705","hour":103.5,"level":-0.06},{"series":"EventID 200705","hour":104.5,"level":-0.10},{"series":"EventID 200705","hour":105.6,"level":-0.17},{"series":"EventID 200705","hour":106.6,"level":-0.20},{"series":"EventID 200705","hour":107.5,"level":-0.25},{"series":"EventID 200705","hour":108.5,"level":-0.24},{"series":"EventID 200705","hour":109.5,"level":-0.23},{"series":"EventID 200705","hour":110.5,"level":-0.21},{"series":"EventID 200705","hour":111.5,"level":-0.21},{"series":"EventID 200705","hour":112.6,"level":-0.19},{"series":"EventID 200705","hour":113.6,"level":-0.20},{"series":"EventID 200705","hour":114.4,"level":-0.21},{"series":"EventID 200705","hour":115.5,"level":-0.19},{"series":"EventID 200705","hour":116.5,"level":-0.20},{"series":"EventID 200705","hour":117.5,"level":-0.21},{"series":"EventID 200705","hour":118.5,"level":-0.23},{"series":"EventID 200705","hour":119.5,"level":-0.20},{"series":"EventID 200705","hour":120.5,"level":-0.16},{"series":"EventID 200705","hour":121.5,"level":-0.19},{"series":"EventID 200705","hour":122.6,"level":-0.06},{"series":"EventID 200705","hour":123.5,"level":-0.05},{"series":"EventID 200705","hour":124.5,"level":-0.02},{"series":"EventID 200705","hour":125.4,"level":-0.01},{"series":"EventID 200705","hour":126.5,"level":0.01},{"series":"EventID 200705","hour":127.5,"level":-0.01},{"series":"EventID 200705","hour":129.2,"level":-0.04},{"series":"EventID 200705","hour":130.4,"level":-0.07},{"series":"EventID 200705","hour":131.4,"level":-0.10},{"series":"EventID 200705","hour":132.4,"level":-0.09},{"series":"EventID 200705","hour":133.4,"level":-0.07},{"series":"EventID 200705","hour":134.4,"level":-0.10},{"series":"EventID 200705","hour":135.3,"level":-0.06},{"series":"EventID 200705","hour":136.3,"level":-0.08},{"series":"EventID 200705","hour":137.3,"level":-0.04},{"series":"EventID 200705","hour":138.3,"level":-0.06},{"series":"EventID 200705","hour":139.4,"level":-0.07},{"series":"EventID 200705","hour":140.4,"level":-0.01},{"series":"EventID 200705","hour":141.4,"level":-0.02},{"series":"EventID 200705","hour":142.4,"level":-0.03},{"series":"EventID 200705","hour":143.3,"level":-0.01},{"series":"EventID 200705","hour":144.3,"level":0.00},{"series":"EventID 200705","hour":145.3,"level":0.04},{"series":"EventID 200705","hour":146.2,"level":0.10},{"series":"EventID 200705","hour":147.5,"level":0.16},{"series":"EventID 200705","hour":149.2,"level":0.17},{"series":"EventID 200705","hour":150.2,"level":0.18},{"series":"EventID 200705","hour":151.6,"level":0.19},{"series":"EventID 200705","hour":152.9,"level":0.14},{"series":"EventID 200705","hour":154.3,"level":0.10},{"series":"EventID 200705","hour":155.3,"level":0.09},{"series":"EventID 200705","hour":156.3,"level":0.10},{"series":"EventID 200705","hour":157.3,"level":0.10},{"series":"EventID 200705","hour":158.3,"level":0.08},{"series":"EventID 200705","hour":159.3,"level":0.10},{"series":"EventID 200705","hour":160.4,"level":0.17},{"series":"EventID 200705","hour":161.3,"level":0.18},{"series":"EventID 200705","hour":162.3,"level":0.22},{"series":"EventID 200705","hour":163.3,"level":0.24},{"series":"EventID 200705","hour":164.0,"level":0.28},

      {"series":"EventID 201512","hour":1.0,"level":0.24},{"series":"EventID 201512","hour":2.3,"level":0.29},{"series":"EventID 201512","hour":3.3,"level":0.29},{"series":"EventID 201512","hour":4.3,"level":0.28},{"series":"EventID 201512","hour":5.3,"level":0.27},{"series":"EventID 201512","hour":6.3,"level":0.29},{"series":"EventID 201512","hour":7.7,"level":0.32},{"series":"EventID 201512","hour":9.0,"level":0.35},{"series":"EventID 201512","hour":10.0,"level":0.40},{"series":"EventID 201512","hour":10.7,"level":0.50},{"series":"EventID 201512","hour":11.4,"level":0.57},{"series":"EventID 201512","hour":12.4,"level":0.58},{"series":"EventID 201512","hour":13.1,"level":0.61},{"series":"EventID 201512","hour":14.1,"level":0.64},{"series":"EventID 201512","hour":15.1,"level":0.63},{"series":"EventID 201512","hour":16.1,"level":0.63},{"series":"EventID 201512","hour":17.1,"level":0.65},{"series":"EventID 201512","hour":18.1,"level":0.66},{"series":"EventID 201512","hour":19.1,"level":0.67},{"series":"EventID 201512","hour":20.1,"level":0.71},{"series":"EventID 201512","hour":20.8,"level":0.83},{"series":"EventID 201512","hour":21.8,"level":0.92},{"series":"EventID 201512","hour":22.8,"level":0.93},{"series":"EventID 201512","hour":23.8,"level":0.92},{"series":"EventID 201512","hour":24.8,"level":0.96},{"series":"EventID 201512","hour":25.8,"level":0.93},{"series":"EventID 201512","hour":26.9,"level":0.86},{"series":"EventID 201512","hour":27.9,"level":0.85},{"series":"EventID 201512","hour":28.9,"level":0.81},{"series":"EventID 201512","hour":29.9,"level":0.77},{"series":"EventID 201512","hour":30.9,"level":0.72},{"series":"EventID 201512","hour":31.9,"level":0.70},{"series":"EventID 201512","hour":32.9,"level":0.74},{"series":"EventID 201512","hour":34.0,"level":0.77},{"series":"EventID 201512","hour":35.0,"level":0.81},{"series":"EventID 201512","hour":35.9,"level":0.78},{"series":"EventID 201512","hour":36.9,"level":0.76},{"series":"EventID 201512","hour":37.9,"level":0.77},{"series":"EventID 201512","hour":38.9,"level":0.74},{"series":"EventID 201512","hour":39.9,"level":0.77},{"series":"EventID 201512","hour":41.3,"level":0.74},{"series":"EventID 201512","hour":42.6,"level":0.74},{"series":"EventID 201512","hour":44.0,"level":0.77},{"series":"EventID 201512","hour":45.0,"level":0.86},{"series":"EventID 201512","hour":46.0,"level":0.96},{"series":"EventID 201512","hour":47.0,"level":0.97},{"series":"EventID 201512","hour":48,"level":1.0},{"series":"EventID 201512","hour":50.1,"level":0.95},{"series":"EventID 201512","hour":51.1,"level":0.86},{"series":"EventID 201512","hour":52.1,"level":0.92},{"series":"EventID 201512","hour":53.1,"level":0.85},{"series":"EventID 201512","hour":54.0,"level":0.77},{"series":"EventID 201512","hour":55.1,"level":0.79},{"series":"EventID 201512","hour":56.1,"level":0.81},{"series":"EventID 201512","hour":57.1,"level":0.79},{"series":"EventID 201512","hour":58.1,"level":0.79},{"series":"EventID 201512","hour":59.1,"level":0.86},{"series":"EventID 201512","hour":60.1,"level":0.86},{"series":"EventID 201512","hour":60.8,"level":0.85},{"series":"EventID 201512","hour":61.8,"level":0.87},{"series":"EventID 201512","hour":62.8,"level":0.87},{"series":"EventID 201512","hour":63.8,"level":0.83},{"series":"EventID 201512","hour":64.9,"level":0.81},{"series":"EventID 201512","hour":65.9,"level":0.79},{"series":"EventID 201512","hour":66.9,"level":0.81},{"series":"EventID 201512","hour":67.9,"level":0.79},{"series":"EventID 201512","hour":68.9,"level":0.79},{"series":"EventID 201512","hour":69.9,"level":0.83},{"series":"EventID 201512","hour":70.9,"level":0.80},{"series":"EventID 201512","hour":72.5,"level":0.83},{"series":"EventID 201512","hour":73.5,"level":0.81},{"series":"EventID 201512","hour":74.6,"level":0.77},{"series":"EventID 201512","hour":75.6,"level":0.74},{"series":"EventID 201512","hour":76.3,"level":0.69},{"series":"EventID 201512","hour":76.9,"level":0.61},{"series":"EventID 201512","hour":77.6,"level":0.60},{"series":"EventID 201512","hour":78.6,"level":0.60},{"series":"EventID 201512","hour":79.6,"level":0.60},{"series":"EventID 201512","hour":80.3,"level":0.57},{"series":"EventID 201512","hour":81.3,"level":0.57},{"series":"EventID 201512","hour":82.3,"level":0.55},{"series":"EventID 201512","hour":83.4,"level":0.55},{"series":"EventID 201512","hour":84.4,"level":0.54},{"series":"EventID 201512","hour":85.7,"level":0.51},{"series":"EventID 201512","hour":86.7,"level":0.50},{"series":"EventID 201512","hour":87.7,"level":0.43},{"series":"EventID 201512","hour":89.0,"level":0.41},{"series":"EventID 201512","hour":90.0,"level":0.42},{"series":"EventID 201512","hour":91.0,"level":0.40},{"series":"EventID 201512","hour":92.0,"level":0.41},{"series":"EventID 201512","hour":93.0,"level":0.42},{"series":"EventID 201512","hour":94.1,"level":0.40},{"series":"EventID 201512","hour":95.1,"level":0.42},{"series":"EventID 201512","hour":96.1,"level":0.42},{"series":"EventID 201512","hour":97.1,"level":0.40},{"series":"EventID 201512","hour":98.1,"level":0.43},{"series":"EventID 201512","hour":99.1,"level":0.47},{"series":"EventID 201512","hour":100.1,"level":0.45},{"series":"EventID 201512","hour":101.1,"level":0.40},{"series":"EventID 201512","hour":102.5,"level":0.38},{"series":"EventID 201512","hour":103.9,"level":0.39},{"series":"EventID 201512","hour":104.5,"level":0.41},{"series":"EventID 201512","hour":106.6,"level":0.46},{"series":"EventID 201512","hour":107.8,"level":0.44},{"series":"EventID 201512","hour":109.2,"level":0.45},{"series":"EventID 201512","hour":110.5,"level":0.43},{"series":"EventID 201512","hour":111.9,"level":0.38},{"series":"EventID 201512","hour":113.2,"level":0.34},{"series":"EventID 201512","hour":114.6,"level":0.31},{"series":"EventID 201512","hour":115.9,"level":0.30},{"series":"EventID 201512","hour":117.3,"level":0.28},{"series":"EventID 201512","hour":118.6,"level":0.25},{"series":"EventID 201512","hour":120.0,"level":0.25},{"series":"EventID 201512","hour":121.0,"level":0.27},{"series":"EventID 201512","hour":122.0,"level":0.28},{"series":"EventID 201512","hour":123.0,"level":0.33},{"series":"EventID 201512","hour":124.0,"level":0.34},{"series":"EventID 201512","hour":125.3,"level":0.29},{"series":"EventID 201512","hour":126.7,"level":0.28},{"series":"EventID 201512","hour":128.0,"level":0.28},{"series":"EventID 201512","hour":129.4,"level":0.29},{"series":"EventID 201512","hour":130.1,"level":0.31},{"series":"EventID 201512","hour":131.0,"level":0.34},{"series":"EventID 201512","hour":132.1,"level":0.32},{"series":"EventID 201512","hour":134.1,"level":0.29},{"series":"EventID 201512","hour":135.4,"level":0.28},{"series":"EventID 201512","hour":136.8,"level":0.28},{"series":"EventID 201512","hour":137.8,"level":0.27},{"series":"EventID 201512","hour":138.8,"level":0.24},{"series":"EventID 201512","hour":139.8,"level":0.26},{"series":"EventID 201512","hour":140.9,"level":0.28},{"series":"EventID 201512","hour":141.9,"level":0.31},{"series":"EventID 201512","hour":143.4,"level":0.36},{"series":"EventID 201512","hour":144.8,"level":0.40},{"series":"EventID 201512","hour":146.2,"level":0.44},{"series":"EventID 201512","hour":147.5,"level":0.47},{"series":"EventID 201512","hour":148.9,"level":0.49},{"series":"EventID 201512","hour":150.2,"level":0.49},{"series":"EventID 201512","hour":151.2,"level":0.45},{"series":"EventID 201512","hour":152.6,"level":0.40},{"series":"EventID 201512","hour":154.3,"level":0.40},{"series":"EventID 201512","hour":155.8,"level":0.40},{"series":"EventID 201512","hour":156.6,"level":0.46},{"series":"EventID 201512","hour":158.3,"level":0.53},{"series":"EventID 201512","hour":159.7,"level":0.51},{"series":"EventID 201512","hour":160.6,"level":0.53},{"series":"EventID 201512","hour":161.6,"level":0.49},{"series":"EventID 201512","hour":163.0,"level":0.44},{"series":"EventID 201512","hour":164.0,"level":0.40}
    ],
    "proposed": [
      {"series":"Proposed Time Function (to 144 h)","hour":0,"level":0},
      {"series":"Proposed Time Function (to 144 h)","hour":36,"level":1},
      {"series":"Proposed Time Function (to 144 h)","hour":60,"level":1},
      {"series":"Proposed Time Function (to 144 h)","hour":144,"level":0.2222},
      {"series":"Proposed Time Function (to 168 h)","hour":0,"level":0},
      {"series":"Proposed Time Function (to 168 h)","hour":36,"level":1},
      {"series":"Proposed Time Function (to 168 h)","hour":60,"level":1},
      {"series":"Proposed Time Function (to 168 h)","hour":168,"level":0}
    ],
    "peak": [
      {"series":"Max Residual WL","hour":48,"level":1}
    ],
    "rainfall": [
      {"start":35.7,"end":37.6,"intensity":1.0},
      {"start":39.5,"end":41.3,"intensity":0.95},
      {"start":43.0,"end":44.9,"intensity":0.72},
      {"start":46.7,"end":48.6,"intensity":0.65},
      {"start":50.4,"end":52.3,"intensity":0.5},
      {"start":54.1,"end":56.0,"intensity":0.42},
      {"start":57.4,"end":59.2,"intensity":0.3}
    ],
    "note": [
      {"hour":47.4,"level":-1.70,"text":"24hr period of"},
      {"hour":47.4,"level":-1.812,"text":"peak rainfall"}
    ]
  },
  "layer": [
    {
      "data": {"name": "events"},
      "mark": {"type": "line", "strokeWidth": 1.2, "clip": true},
      "encoding": {
        "x": {
          "field": "hour", "type": "quantitative",
          "scale": {"domain": [0, 168], "nice": false, "zero": false},
          "axis": {
            "title": "Time (hours)",
            "values": [12, 24, 36, 48, 60, 72, 84, 96, 108, 120, 132, 144, 156, 168],
            "labelPadding": 20,
            "titleFontSize": 17.6,
            "titlePadding": 6
          }
        },
        "y": {
          "field": "level", "type": "quantitative",
          "scale": {"domain": [-2, 1], "nice": false, "zero": false},
          "axis": {
            "title": "Residual Water Level (m)",
            "values": [-2, -1.5, -1, -0.5, 0, 0.5, 1],
            "labelExpr": "toString(datum.value)",
            "labelPadding": 14,
            "titleFontSize": 18,
            "titlePadding": 8
          }
        },
        "color": {
          "field": "series", "type": "nominal",
          "scale": {
            "domain": ["EventID 536", "EventID 12", "EventID 3", "EventID 201613", "EventID 201304", "EventID 200705", "EventID 201512", "Proposed Time Function (to 144 h)", "Proposed Time Function (to 168 h)", "Max Residual WL"],
            "range": ["#0072BD", "#D95319", "#EDB120", "#7E2F8E", "#77AC30", "#4DBEEE", "#A2142F", "#4A8CCB", "#FF0000", "#D95319"]
          },
          "sort": null,
          "legend": {
            "orient": "none",
            "legendX": 855,
            "legendY": 270,
            "title": null,
            "padding": 4,
            "strokeColor": "#262626",
            "fillColor": "white",
            "symbolType": "M-5,0H5",
            "symbolSize": 100,
            "symbolStrokeWidth": 1.5,
            "symbolOffset": 18,
            "labelOffset": 20.5,
            "labelFont": "Liberation Sans",
            "labelFontSize": 14.4,
            "labelColor": "#000000",
            "labelLimit": 300,
            "labelExpr": "split(datum.label, ' (')[0]",
            "rowPadding": 6,
            "encoding": {
              "symbols": {
                "shape": {"value": {"expr": "datum.value === 'Max Residual WL' ? 'M0.4,0H2.4M1.4,-1V1M0.7,-0.7L2.1,0.7M0.7,0.7L2.1,-0.7' : 'M-5,0H5'"}},
                "strokeDash": {"value": {"expr": "datum.value === 'Proposed Time Function (to 168 h)' ? [10, 6] : [1, 0]"}},
                "strokeWidth": {"value": {"expr": "datum.value === 'Proposed Time Function (to 144 h)' ? 2 : 1.5"}}
              }
            }
          }
        }
      }
    },
    {
      "data": {"name": "proposed"},
      "transform": [{"filter": "datum.series === 'Proposed Time Function (to 144 h)'"}],
      "mark": {"type": "line", "strokeWidth": 2},
      "encoding": {
        "x": {"field": "hour", "type": "quantitative"},
        "y": {"field": "level", "type": "quantitative"},
        "color": {"field": "series", "type": "nominal"}
      }
    },
    {
      "data": {"name": "proposed"},
      "transform": [{"filter": "datum.series === 'Proposed Time Function (to 168 h)'"}],
      "mark": {"type": "line", "strokeWidth": 1.4, "strokeDash": [10, 6]},
      "encoding": {
        "x": {"field": "hour", "type": "quantitative"},
        "y": {"field": "level", "type": "quantitative"},
        "color": {"field": "series", "type": "nominal"}
      }
    },
    {
      "data": {"name": "peak"},
      "mark": {"type": "point", "filled": false, "size": 100, "strokeWidth": 1.3, "opacity": 1,
               "shape": "M-1,0H1M0,-1V1M-0.7,-0.7L0.7,0.7M-0.7,0.7L0.7,-0.7"},
      "encoding": {
        "x": {"field": "hour", "type": "quantitative"},
        "y": {"field": "level", "type": "quantitative"},
        "color": {"field": "series", "type": "nominal"}
      }
    },
    {
      "data": {"name": "rainfall"},
      "mark": {"type": "rule", "color": "black"},
      "encoding": {
        "x": {"field": "start", "type": "quantitative"},
        "x2": {"field": "end"},
        "y": {"datum": -1.915},
        "opacity": {"field": "intensity", "type": "quantitative", "scale": {"domain": [0, 1], "range": [0, 1]}, "legend": null},
        "size": {"field": "intensity", "type": "quantitative", "scale": {"type": "threshold", "domain": [0.9], "range": [2.3, 4]}, "legend": null}
      }
    },
    {
      "data": {"name": "note"},
      "mark": {"type": "text", "font": "Liberation Sans", "fontSize": 22.5, "color": "#000000", "align": "center", "baseline": "middle"},
      "encoding": {
        "x": {"field": "hour", "type": "quantitative"},
        "y": {"field": "level", "type": "quantitative"},
        "text": {"field": "text"}
      }
    }
  ]
}
